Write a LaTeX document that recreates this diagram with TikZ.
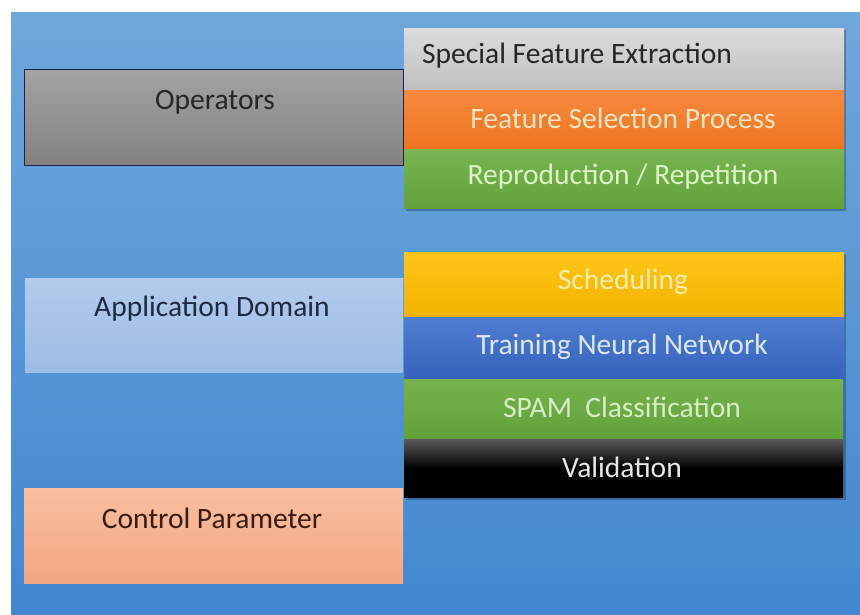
\documentclass[tikz,border=0pt]{standalone}
\usepackage{fontspec}
\setmainfont{Carlito}
\definecolor{bgtop}{HTML}{6FA7DC}
\definecolor{bgbot}{HTML}{4287CF}
\definecolor{optop}{HTML}{A3A3A3}
\definecolor{opbot}{HTML}{85817E}
\definecolor{opline}{HTML}{1A2540}
\definecolor{sfetop}{HTML}{DCDCDC}
\definecolor{sfebot}{HTML}{BFBFBF}
\definecolor{fsptop}{HTML}{F7893F}
\definecolor{fspbot}{HTML}{EE7420}
\definecolor{reptop}{HTML}{78B452}
\definecolor{repbot}{HTML}{62A23A}
\definecolor{schtop}{HTML}{FFC418}
\definecolor{schbot}{HTML}{F2B400}
\definecolor{trntop}{HTML}{4F7DD0}
\definecolor{trnbot}{HTML}{3563BC}
\definecolor{spmtop}{HTML}{76B24D}
\definecolor{spmbot}{HTML}{62A23A}
\definecolor{valtop}{HTML}{5A5A5A}
\definecolor{valbot}{HTML}{000000}
\definecolor{adtop}{HTML}{B3CBEC}
\definecolor{adbot}{HTML}{9DBCE6}
\definecolor{adtext}{HTML}{1E2A44}
\definecolor{cptop}{HTML}{F8BFA0}
\definecolor{cpbot}{HTML}{F3A682}
\definecolor{cptext}{HTML}{3A1C14}
\begin{document}
\begin{tikzpicture}[x=1pt,y=-1pt,
  box/.style={rectangle, inner sep=0pt, anchor=north west, draw=none},
  txt/.style={inner sep=0pt, font=\fontsize{29.5}{34}\selectfont}
]
\useasboundingbox (0,0) rectangle (860,615);
\fill[white] (0,0) rectangle (860,615);
\shade[top color=bgtop, bottom color=bgbot] (11,13) rectangle (860,615);

% left boxes
\node[box, minimum width=379pt, minimum height=96pt, top color=optop, bottom color=opbot, draw=opline, line width=1pt] (ops) at (24,69) {};
\node[txt, text=black!85] (opsT) at (215,102) {Operators};

\node[box, minimum width=378pt, minimum height=94pt, top color=adtop, bottom color=adbot] (app) at (25,278) {};
\node[txt, text=adtext] (appT) at (212,309) {Application Domain};

\node[box, minimum width=379pt, minimum height=95pt, top color=cptop, bottom color=cpbot] (ctl) at (24,488) {};
\node[txt, text=cptext] (ctlT) at (212,518) {Control Parameter};

% right upper column (shadow)
\fill[black, opacity=0.25] (406,30) rectangle (846,211);
\node[box, minimum width=440pt, minimum height=62pt, top color=sfetop, bottom color=sfebot] (sfe) at (404,28) {};
\node[txt, anchor=west, text=black!85] (sfeT) at (422,56) {Special Feature Extraction};
\node[box, minimum width=440pt, minimum height=59pt, top color=fsptop, bottom color=fspbot] (fsp) at (404,90) {};
\node[txt, text={rgb,255:red,252;green,228;blue,196}] (fspT) at (623,118) {Feature Selection Process};
\node[box, minimum width=440pt, minimum height=59pt, top color=reptop, bottom color=repbot] (rep) at (404,149) {};
\node[txt, text={rgb,255:red,222;green,242;blue,200}] (repT) at (623,177) {Reproduction / Repetition};

% right lower column (shadow)
\fill[black, opacity=0.25] (406,254) rectangle (846,500);
\node[box, minimum width=440pt, minimum height=65pt, top color=schtop, bottom color=schbot] (sch) at (404,252) {};
\node[txt, text={rgb,255:red,253;green,236;blue,170}] (schT) at (623,282) {Scheduling};
\node[box, minimum width=440pt, minimum height=62pt, top color=trntop, bottom color=trnbot] (trn) at (404,317) {};
\node[txt, text={rgb,255:red,222;green,231;blue,248}] (trnT) at (622,347) {Training Neural Network};
\node[box, minimum width=439pt, minimum height=60pt, top color=spmtop, bottom color=spmbot] (spm) at (404,379) {};
\node[txt, text={rgb,255:red,214;green,238;blue,200}] (spmT) at (622,407) {SPAM\ \ Classification};
\node[box, minimum width=439pt, minimum height=58pt, top color=valtop, bottom color=valbot, middle color=black] (val) at (404,439) {};
\node[txt, text={rgb,255:red,232;green,232;blue,232}] (valT) at (622,467) {Validation};
\end{tikzpicture}
\end{document}
